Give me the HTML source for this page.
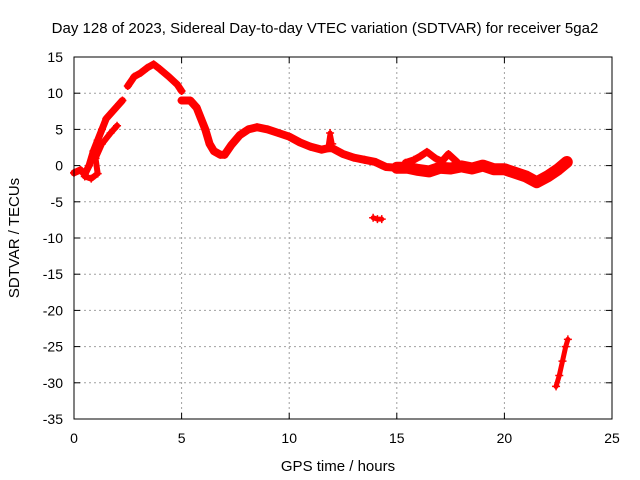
<!DOCTYPE html>
<html><head><meta charset="utf-8"><style>
body{margin:0;background:#fff;}
svg{display:block;font-family:"Liberation Sans",sans-serif;}
</style></head><body>
<svg id="chart" width="640" height="480">
<text x="325" y="33" font-size="15" text-anchor="middle">Day 128 of 2023, Sidereal Day-to-day VTEC variation (SDTVAR) for receiver 5ga2</text>
<text x="338" y="471" font-size="15" text-anchor="middle">GPS time / hours</text>
<text transform="translate(19,238) rotate(-90)" font-size="15" text-anchor="middle">SDTVAR / TECUs</text>
<g id="grid"></g><g id="axes"></g><g id="marks"></g>
<rect x="74" y="57" width="538" height="362" fill="none" stroke="#000"/>
</svg>
<script>
const xTicks=[0,5,10,15,20,25];
const yTicks=[15,10,5,0,-5,-10,-15,-20,-25,-30,-35];
const riseT=[0.0,0.3,0.5,0.7,0.9,1.1,1.3,1.5,1.8,2.1,2.25];
const riseV=[-1,-0.6,-1.2,0,2,3.5,5,6.5,7.5,8.5,9];
const peakT=[2.5,2.8,3.1,3.4,3.7,4.0,4.4,4.8,5.0];
const peakV=[11,12.3,12.8,13.5,14,13.3,12.3,11.2,10.3];
const lowT=[0.5,0.8,1.1,1.0,1.3,1.7,2.0];
const lowV=[-1.5,-1.8,-1.1,1,3,4.5,5.5];
const midT=[5.0,5.4,5.7,5.9,6.1,6.3,6.5,6.8,7.0,7.3,7.7,8.1,8.5,9.0,9.5,10.0,10.5,11.0,11.5,11.8,12.0,12.5,13.0,13.5,14.0,14.5,15.0];
const midV=[9,9,8,6.5,5,3,2,1.5,1.5,2.8,4.2,5,5.3,5,4.5,4,3.2,2.6,2.2,2.4,2.4,1.6,1.1,0.8,0.5,-0.2,-0.3];
const lateT=[15.0,15.5,16.0,16.5,17.0,17.5,18.0,18.5,19.0,19.5,20.0,20.5,21.0,21.5,22.0,22.5,22.9];
const lateV=[-0.3,-0.3,-0.6,-0.8,-0.3,-0.4,-0.1,-0.4,0,-0.5,-0.5,-1,-1.5,-2.3,-1.5,-0.5,0.5];
const spikeT=[11.8,11.9,12.0];
const spikeV=[2.5,4.5,3];
const crossT=[15.4,15.8,16.1,16.4,16.8,17.1,17.4,17.8];
const crossV=[0.4,0.8,1.3,1.9,1.0,0.6,1.6,0.5];
const isoT=[13.9,14.1,14.3];
const isoV=[-7.2,-7.4,-7.4];
const dropT=[22.4,22.55,22.7,22.85,22.95];
const dropV=[-30.5,-29,-27,-25,-24];
const X=t=>74+t*538/25, Y=v=>57+(15-v)*362/50;
const NS="http://www.w3.org/2000/svg";
function mk(tag,attrs,parent){const e=document.createElementNS(NS,tag);for(const k in attrs)e.setAttribute(k,attrs[k]);document.getElementById(parent).appendChild(e);return e;}
xTicks.forEach(t=>{
 if(t>0&&t<25){const g=mk('line',{x1:X(t),x2:X(t),y1:57,y2:419,stroke:'#a0a0a0','stroke-dasharray':'2,3'},'grid');
 
 }
 mk('line',{x1:X(t),x2:X(t),y1:419,y2:413,stroke:'#000'},'axes');
 mk('line',{x1:X(t),x2:X(t),y1:57,y2:63,stroke:'#000'},'axes');
 const l=mk('text',{x:X(t),y:443,'font-size':14,'text-anchor':'middle'},'axes');l.textContent=t;
 
 
});
yTicks.forEach(v=>{
 if(v<15&&v>-35){const g=mk('line',{x1:74,x2:612,y1:Y(v),y2:Y(v),stroke:'#a0a0a0','stroke-dasharray':'2,3'},'grid');
 
 }
 mk('line',{x1:74,x2:80,y1:Y(v),y2:Y(v),stroke:'#000'},'axes');
 mk('line',{x1:612,x2:606,y1:Y(v),y2:Y(v),stroke:'#000'},'axes');
 const l=mk('text',{x:63,y:Y(v)+5,'font-size':14,'text-anchor':'end'},'axes');l.textContent=v;
 
 
});
function series(T,V,name,w){
 const pts=T.map((t,i)=>X(t)+','+Y(V[i])).join(' ');
 const p=mk('polyline',{points:pts,fill:'none',stroke:'#f00','stroke-width':w,'stroke-linejoin':'round','stroke-linecap':'round'},'marks');
 
 
 T.forEach((t,i)=>{const x=X(t),y=Y(V[i]);
  const m=mk('path',{d:`M${x-4},${y}h8M${x},${y-4}v8`,stroke:'#f00','stroke-width':1.5},'marks');
  
  });
}
series(riseT,riseV,'series-rise',7);
series(peakT,peakV,'series-peak',7);
series(lowT,lowV,'series-lower-branch',6);
series(midT,midV,'series-main',8);
series(lateT,lateV,'series-late',12);
series(spikeT,spikeV,'series-spike',5);
series(crossT,crossV,'series-cross',7);
series(isoT,isoV,'series-isolated',5);
series(dropT,dropV,'series-drop',5);
</script>
</body></html>
